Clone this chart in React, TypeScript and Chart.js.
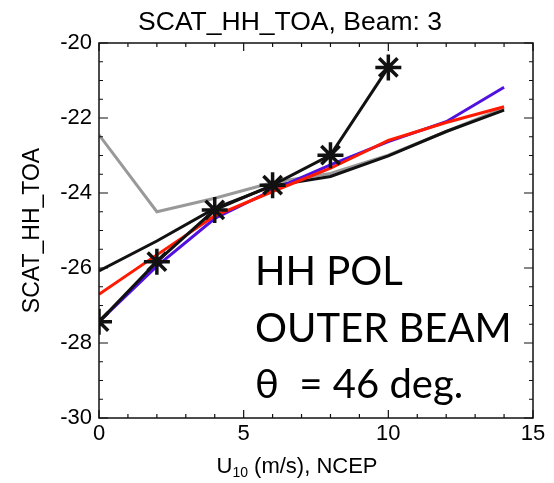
import React, { useEffect, useRef } from 'react';
import { Chart, registerables } from 'chart.js';

Chart.register(...registerables);

const windSpeeds = [0, 2, 4, 6, 8, 10, 12, 14];
const starWinds = [0, 2, 4, 6, 8, 10];
const observed = [-27.43, -25.83, -24.45, -23.79, -22.99, -20.65];
const blueModel = [-27.43, -25.95, -24.68, -23.92, -23.25, -22.63, -22.1, -21.18];
const redModel = [-26.7, -25.65, -24.61, -23.96, -23.34, -22.6, -22.12, -21.7];
const blackModel = [-26.08, -25.28, -24.41, -23.81, -23.56, -23.01, -22.36, -21.79];
const grayModel = [-22.45, -24.5, -24.14, -23.72, -23.48, -22.99, -22.36, -21.74];
const xTickValues = [0, 5, 10, 15];
const yTickValues = [-30, -28, -26, -24, -22, -20];

const chartTitle = 'SCAT_HH_TOA, Beam: 3';
const yTitle = 'SCAT_HH_TOA';
const annotationLines = ['HH POL', 'OUTER BEAM', 'θ  = 46 deg.'];

const SANS = '"Liberation Sans", Arial, Helvetica, sans-serif';

const pts = (xs: number[], ys: number[]) => xs.map((x, i) => ({ x, y: ys[i] }));

const leftClipPlugin = {
  id: 'leftClip',
  beforeDatasetDraw(chart: any, args: any) {
    if (args.index !== 0) return;
    const { ctx, chartArea } = chart;
    ctx.save();
    ctx.beginPath();
    ctx.rect(chartArea.left - 1, 0, chart.width, chart.height);
    ctx.clip();
  },
  afterDatasetDraw(chart: any, args: any) {
    if (args.index !== 0) return;
    chart.ctx.restore();
  },
};

const decorPlugin = {
  id: 'decor',
  afterDraw(chart: any) {
    const { ctx, chartArea } = chart;
    const xs = chart.scales.x;
    const ys = chart.scales.y;
    const { left, right, top, bottom } = chartArea;
    ctx.save();
    // frame
    ctx.strokeStyle = '#111';
    ctx.lineWidth = 1.5;
    ctx.strokeRect(left, top, right - left, bottom - top);
    ctx.lineWidth = 1.2;
    ctx.beginPath();
    for (let v = 0; v <= 15; v += 1) {
      const px = xs.getPixelForValue(v);
      const len = v % 5 === 0 ? 8 : 4;
      ctx.moveTo(px, bottom);
      ctx.lineTo(px, bottom - len);
      ctx.moveTo(px, top);
      ctx.lineTo(px, top + len);
    }
    for (let v = -30; v <= -20 + 1e-9; v += 0.5) {
      const py = ys.getPixelForValue(v);
      const len = Math.abs(v) % 2 === 0 ? 9 : 4;
      ctx.moveTo(left, py);
      ctx.lineTo(left + len, py);
      ctx.moveTo(right, py);
      ctx.lineTo(right - len, py);
    }
    ctx.stroke();

    // title
    ctx.fillStyle = '#000';
    ctx.textAlign = 'center';
    ctx.textBaseline = 'alphabetic';
    ctx.font = `26.5px ${SANS}`;
    ctx.fillText(chartTitle, 290, 30);

    // x title with subscript
    const mainFont = `22px ${SANS}`;
    const subFont = `14px ${SANS}`;
    ctx.font = mainFont;
    const wU = ctx.measureText('U').width;
    const rest = ' (m/s), NCEP';
    const wRest = ctx.measureText(rest).width;
    ctx.font = subFont;
    const wSub = ctx.measureText('10').width;
    const total = wU + wSub + wRest;
    const x0 = 297 - total / 2;
    const base = 473;
    ctx.textAlign = 'left';
    ctx.font = mainFont;
    ctx.fillText('U', x0, base);
    ctx.font = subFont;
    ctx.fillText('10', x0 + wU, base + 4);
    ctx.font = mainFont;
    ctx.fillText(rest, x0 + wU + wSub, base);

    // annotation
    ctx.font = `40px Lato, "Open Sans", sans-serif`;
    ctx.textAlign = 'left';
    const baselines = [285, 342, 398];
    annotationLines.forEach((t, i) => ctx.fillText(t, 255, baselines[i]));
    ctx.restore();
  },
};

export default function App() {
  const ref = useRef<HTMLCanvasElement | null>(null);
  useEffect(() => {
    document.body.style.margin = '0';
    const canvas = ref.current!;
    const chart = new Chart(canvas, {
      type: 'line',
      data: {
        datasets: [
          {
            label: 'observed',
            data: pts(starWinds, observed),
            borderColor: '#111',
            borderWidth: 3,
            pointStyle: 'star',
            pointRadius: 13,
            pointBorderWidth: 3.5,
            pointBorderColor: '#111',
            pointBackgroundColor: '#111',
            order: 0,
          },
          {
            label: 'red',
            data: pts(windSpeeds, redModel),
            borderColor: '#ff1a00',
            borderWidth: 3,
            pointRadius: 0,
            order: 1,
          },
          {
            label: 'blue',
            data: pts(windSpeeds, blueModel),
            borderColor: '#5010e0',
            borderWidth: 3,
            pointRadius: 0,
            order: 2,
          },
          {
            label: 'black',
            data: pts(windSpeeds, blackModel),
            borderColor: '#111',
            borderWidth: 3,
            pointRadius: 0,
            order: 3,
          },
          {
            label: 'gray',
            data: pts(windSpeeds, grayModel),
            borderColor: '#999',
            borderWidth: 3,
            pointRadius: 0,
            order: 4,
          },
        ],
      },
      options: {
        animation: false,
        responsive: false,
        devicePixelRatio: 1,
        layout: { padding: { top: 43, right: 21, left: 0, bottom: 0 } },
        plugins: { legend: { display: false }, tooltip: { enabled: false }, title: { display: false } },
        scales: {
          x: {
            type: 'linear',
            min: 0,
            max: 15,
            afterFit: (s: any) => { s.height = 65; },
            afterBuildTicks: (s: any) => { s.ticks = xTickValues.map((v) => ({ value: v })); },
            grid: { display: false, drawTicks: false },
            border: { display: false },
            ticks: { color: '#000', padding: 3, font: { size: 22, family: SANS }, maxRotation: 0 },
          },
          y: {
            type: 'linear',
            min: -30,
            max: -20,
            afterFit: (s: any) => { s.width = 99; },
            afterBuildTicks: (s: any) => { s.ticks = yTickValues.map((v) => ({ value: v })); },
            grid: { display: false, drawTicks: false },
            border: { display: false },
            ticks: { color: '#000', padding: 7, font: { size: 22, family: SANS } },
            title: {
              display: true,
              text: yTitle,
              color: '#000',
              font: { size: 23, family: SANS },
              padding: { top: 19, bottom: 4 },
            },
          },
        },
      },
      plugins: [leftClipPlugin, decorPlugin],
    });
    return () => chart.destroy();
  }, []);
  return (
    <div style={{ width: 554, height: 483, background: '#fff' }}>
      <canvas ref={ref} width={554} height={483} style={{ display: 'block', width: 554, height: 483 }} />
    </div>
  );
}
